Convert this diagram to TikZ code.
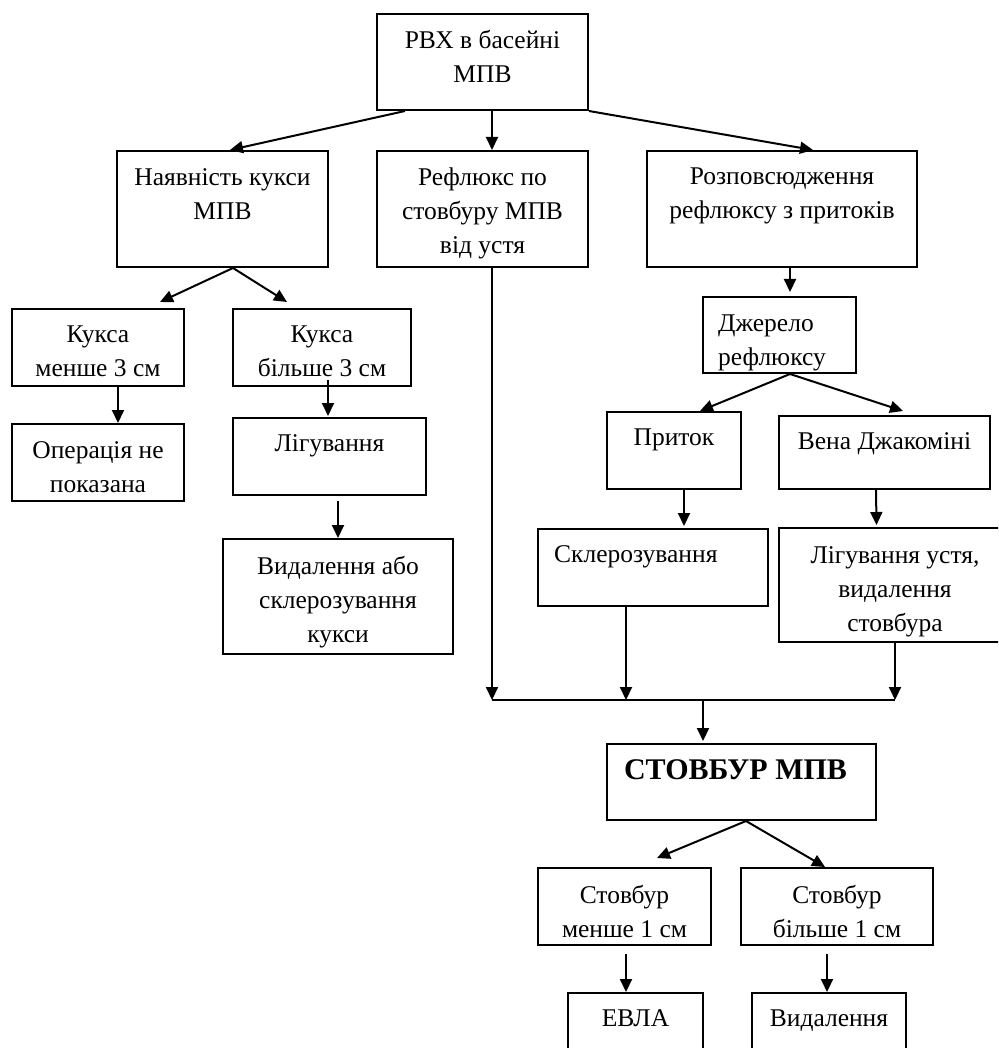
\documentclass[tikz,border=0pt]{standalone}
\usepackage{fontspec}
\setmainfont{Liberation Serif}
\usetikzlibrary{fit,arrows.meta}
\newcommand\fs{\fontsize{25.5}{34}\selectfont}
\newcommand\fb{\fontsize{30}{36}\selectfont\bfseries}
\tikzset{
  blk/.style={draw, line width=2pt, inner sep=0pt},
  lbl/.style={anchor=north, yshift=-10pt, align=center, inner sep=0pt, font=\fs\strut},
  mlbl/.style={lbl, yshift=-8pt},
  arr/.style={line width=2pt, -{Triangle[length=13pt,width=12pt]}},
}
\begin{document}
\begin{tikzpicture}[x=1pt, y=-1pt]
    \useasboundingbox (0,0) rectangle (998,1048);
    \fill[white] (0,0) rectangle (998,1048);
    \clip (0,0) rectangle (998,1048);

    \node[blk, fit={(377,14) (588,110)}, label={[mlbl, yshift=1pt]north:{РВХ в басейні\\МПВ}}] (rvh) {};
    \node[blk, fit={(117,151) (328,267)}, label={[mlbl]north:{Наявність кукси\\МПВ}}] (kuksa) {};
    \node[blk, fit={(377,151) (588,267)}, label={[mlbl]north:{Рефлюкс по\\стовбуру МПВ\\від устя}}] (refl) {};
    \node[blk, fit={(647,151) (917,267)}, label={[mlbl]north:{Розповсюдження\\рефлюксу з притоків}}] (rozp) {};
    \node[blk, fit={(12,309) (184,386)}, label={[mlbl]north:{Кукса\\менше 3 см}}] (km3) {};
    \node[blk, fit={(233,309) (411,386)}, label={[mlbl]north:{Кукса\\більше 3 см}}] (kb3) {};
    \node[blk, fit={(12,424) (184,501)}, label={[mlbl]north:{Операція не\\показана}}] (oper) {};
    \node[blk, fit={(233,418) (426,495)}, label={[lbl]north:{Лігування}}] (lig) {};
    \node[blk, fit={(223,539) (453,654)}, label={[mlbl]north:{Видалення або\\склерозування\\кукси}}] (vyd) {};
    \node[blk, fit={(703,297) (856,373)}, label={[mlbl, anchor=north west, align=left, xshift=16pt, yshift=-1pt]north west:{Джерело\\рефлюксу}}] (dzh) {};
    \node[blk, fit={(607,412) (741,489)}, label={[lbl]north:{Приток}}] (pryt) {};
    \node[blk, fit={(779,416) (990,489)}, label={[lbl]north:{Вена Джакоміні}}] (vena) {};
    \node[blk, fit={(538,529) (768,606)}, label={[lbl, anchor=north west, xshift=17pt]north west:{Склерозування}}] (skl) {};
    \node[blk, fit={(779,528) (1011,642)}, label={[mlbl, yshift=-1pt]north:{Лігування устя,\\видалення\\стовбура}}] (ligu) {};
    \node[blk, fit={(607,744) (876,820)}, label={[lbl, font=\fb\strut, yshift=-1pt, xshift=-6pt]north:{СТОВБУР МПВ}}] (stv) {};
    \node[blk, fit={(538,868) (711,945)}, label={[mlbl]north:{Стовбур\\менше 1 см}}] (sm1) {};
    \node[blk, fit={(741,868) (933,945)}, label={[mlbl]north:{Стовбур\\більше 1 см}}] (sb1) {};
    \node[blk, fit={(568,993) (703,1070)}, label={[lbl]north:{ЕВЛА}}] (evla) {};
    \node[blk, fit={(752,993) (906,1070)}, label={[lbl]north:{Видалення}}] (vydal) {};

    \coordinate (b1) at (492,700);
    \coordinate (b2) at (626,700);
    \coordinate (b3) at (895,700);
    \coordinate (b4) at (703,700);

    \draw[arr] ([xshift=-77.5pt]rvh.south) -- ([xshift=7.5pt]kuksa.north);
    \draw[arr] ([xshift=9.5pt]rvh.south) -- ([xshift=9.5pt]refl.north);
    \draw[arr] (rvh.south east) -- ([xshift=31pt]rozp.north);
    \draw[arr] ([xshift=10.5pt]kuksa.south) -- ([xshift=62pt,yshift=6pt]km3.north);
    \draw[arr] ([xshift=10.5pt]kuksa.south) -- ([xshift=-35pt,yshift=6pt]kb3.north);
    \draw[arr] ([xshift=20pt]km3.south) -- ([xshift=20pt]oper.north);
    \draw[arr] ([xshift=6pt,yshift=7pt]kb3.south) -- ([xshift=-1.5pt,yshift=1pt]lig.north);
    \draw[arr] ([xshift=8.5pt,yshift=-5pt]lig.south) -- (vyd.north);
    \draw[arr] ([xshift=8pt]rozp.south) -- ([xshift=10.5pt,yshift=4pt]dzh.north);
    \draw[arr] ([xshift=10.5pt]dzh.south) -- ([xshift=26pt]pryt.north);
    \draw[arr] ([xshift=10.5pt]dzh.south) -- ([xshift=18.5pt,yshift=4pt]vena.north);
    \draw[arr] ([xshift=10pt]pryt.south) -- ([xshift=31pt,yshift=2pt]skl.north);
    \draw[arr] ([xshift=-8.5pt]vena.south) -- ([xshift=-18.5pt,yshift=2pt]ligu.north);
    \draw[arr] ([xshift=9.5pt]refl.south) -- (b1);
    \draw[arr] ([xshift=-27pt]skl.south) -- (b2);
    \draw[arr] (ligu.south) -- (b3);
    \draw[line width=2pt] (b1) -- (b3);
    \draw[arr] (b4) -- ([xshift=-38.5pt,yshift=2pt]stv.north);
    \draw[arr] ([xshift=4.5pt]stv.south) -- ([xshift=32.5pt,yshift=9pt]sm1.north);
    \draw[arr] ([xshift=4.5pt]stv.south) -- ([xshift=-12pt]sb1.north);
    \draw[arr] ([xshift=1.5pt,yshift=-8pt]sm1.south) -- ([xshift=-9.5pt]evla.north);
    \draw[arr] ([xshift=-10pt,yshift=-8pt]sb1.south) -- ([xshift=-2pt]vydal.north);
\end{tikzpicture}
\end{document}
